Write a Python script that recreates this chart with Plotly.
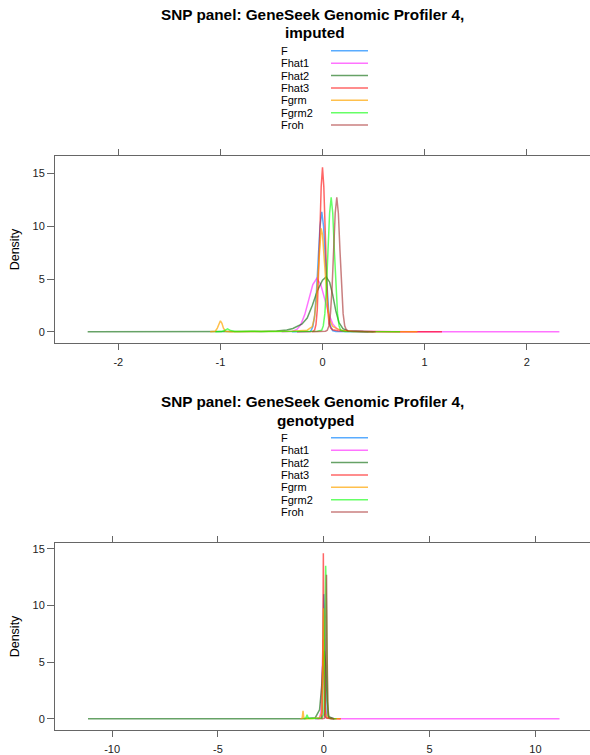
import plotly.graph_objects as go

# ---------------- data ----------------
series_names = ["F", "Fhat1", "Fhat2", "Fhat3", "Fgrm", "Fgrm2", "Froh"]
series_colors = ["rgba(0,128,255,0.65)", "rgba(255,0,255,0.55)", "rgba(0,100,0,0.6)",
                 "rgba(255,0,0,0.6)", "rgba(255,165,0,0.7)", "rgba(0,255,0,0.6)",
                 "rgba(165,42,42,0.6)"]

# --- imputed panel ---
imp_F_x = [-0.30, -0.12, -0.112, -0.0945, -0.077, -0.0595, -0.042, -0.0245, -0.007, 0.0105, 0.028, 0.0455, 0.063, 0.0805, 0.098, 0.13, 0.25, 0.45]
imp_F_y = [0.0, 0.02, 0.12, 0.5, 1.53, 3.7, 6.9, 10.0, 11.36, 10.0, 6.9, 3.7, 1.53, 0.5, 0.12, 0.03, 0.01, 0.0]

imp_Fhat1_x = [-0.40, -0.29, -0.251, -0.212, -0.173, -0.134, -0.095, -0.056, -0.017, 0.022, 0.061, 0.10, 0.14, 0.18, 0.25, 0.40, 0.60, 1.0, 2.32]
imp_Fhat1_y = [0.0, 0.06, 0.22, 0.68, 1.65, 3.08, 4.47, 5.07, 4.47, 3.1, 1.7, 0.75, 0.3, 0.12, 0.05, 0.02, 0.01, 0.003, 0.0]

imp_Fhat2_x = [-2.30, -1.0, -0.6, -0.45, -0.35, -0.29, -0.2, -0.15, -0.1, -0.05, 0.0, 0.036, 0.07, 0.1, 0.13, 0.16, 0.2, 0.25, 0.35, 0.5]
imp_Fhat2_y = [0.0, 0.005, 0.03, 0.08, 0.18, 0.32, 0.75, 1.3, 2.5, 3.9, 4.9, 5.2, 4.7, 3.5, 2.0, 0.9, 0.3, 0.08, 0.02, 0.0]

imp_Fhat3_x = [-0.25, -0.1, -0.077, -0.064, -0.051, -0.038, -0.0256, -0.0128, 0.0, 0.0128, 0.0256, 0.038, 0.051, 0.064, 0.08, 0.1, 0.15, 0.25, 0.4, 0.7, 1.17]
imp_Fhat3_y = [0.0, 0.02, 0.17, 0.69, 2.1, 5.07, 9.47, 13.76, 15.6, 13.76, 9.47, 5.07, 2.1, 0.8, 0.35, 0.2, 0.1, 0.05, 0.02, 0.005, 0.0]

imp_Fgrm_x = [-1.10, -1.05, -1.03, -1.015, -1.0, -0.985, -0.97, -0.95, -0.9, -0.7, -0.5, -0.3, -0.15, -0.1, -0.08, -0.06, -0.04, -0.025, -0.013, 0.0, 0.015, 0.03, 0.05, 0.07, 0.1, 0.15, 0.2, 0.3, 0.5, 0.93]
imp_Fgrm_y = [0.0, 0.05, 0.35, 0.8, 1.04, 0.8, 0.35, 0.06, 0.01, 0.02, 0.02, 0.05, 0.15, 0.5, 1.3, 3.0, 6.0, 8.6, 9.8, 9.2, 7.0, 4.6, 2.4, 1.1, 0.5, 0.25, 0.12, 0.04, 0.01, 0.0]

imp_Fgrm2_x = [-1.05, -0.99, -0.96, -0.93, -0.90, -0.86, -0.8, -0.75, -0.7, -0.6, -0.4, -0.2, -0.05, -0.008, 0.0075, 0.023, 0.0385, 0.054, 0.0695, 0.085, 0.1005, 0.116, 0.1315, 0.147, 0.1625, 0.178, 0.22, 0.35, 0.5, 0.76]
imp_Fgrm2_y = [0.0, 0.02, 0.12, 0.28, 0.12, 0.03, 0.03, 0.08, 0.06, 0.02, 0.02, 0.03, 0.05, 0.14, 0.56, 1.72, 4.14, 7.73, 11.24, 12.74, 11.24, 7.73, 4.14, 1.72, 0.56, 0.14, 0.04, 0.02, 0.01, 0.0]

imp_Froh_x = [-0.10, 0.0, 0.03, 0.047, 0.0625, 0.078, 0.0935, 0.109, 0.1245, 0.14, 0.1555, 0.171, 0.1865, 0.202, 0.2175, 0.233, 0.25, 0.3, 0.4, 0.52]
imp_Froh_y = [0.0, 0.01, 0.05, 0.15, 0.56, 1.72, 4.14, 7.73, 11.24, 12.74, 11.24, 7.73, 4.14, 1.72, 0.56, 0.2, 0.08, 0.04, 0.02, 0.0]

# --- genotyped panel ---
gen_F_x = [-0.4, -0.11, -0.08, -0.06, -0.04, -0.02, 0.0, 0.02, 0.04, 0.06, 0.08, 0.11, 0.5]
gen_F_y = [0.0, 0.1, 0.9, 3.2, 7.0, 10.0, 11.0, 10.0, 7.0, 3.2, 0.9, 0.1, 0.0]

gen_Fhat1_x = [-0.40, -0.2, -0.14, -0.1, -0.06, -0.03, 0.0, 0.04, 0.08, 0.14, 0.3, 1.0, 5.0, 11.14]
gen_Fhat1_y = [0.0, 0.05, 0.6, 2.5, 5.8, 7.0, 5.8, 2.6, 0.8, 0.15, 0.03, 0.01, 0.002, 0.0]

gen_Fhat2_x = [-11.14, -5.0, -1.0, -0.4, -0.2, -0.1, -0.04, 0.03, 0.1, 0.16, 0.24, 0.5]
gen_Fhat2_y = [0.0, 0.002, 0.01, 0.1, 0.8, 2.8, 5.0, 6.0, 4.6, 1.6, 0.2, 0.0]

gen_Fhat3_x = [-0.3, -0.1, -0.075, -0.06, -0.047, -0.033, -0.02, -0.007, 0.007, 0.02, 0.035, 0.05, 0.08, 0.15, 0.4, 0.8]
gen_Fhat3_y = [0.0, 0.03, 0.7, 2.1, 5.1, 10.0, 14.6, 10.0, 5.1, 2.1, 0.7, 0.3, 0.15, 0.06, 0.02, 0.0]

gen_Fgrm_x = [-1.10, -1.02, -0.98, -0.94, -0.88, -0.5, -0.2, -0.1, -0.07, -0.045, -0.025, -0.01, 0.005, 0.025, 0.05, 0.08, 0.15, 0.3, 0.8]
gen_Fgrm_y = [0.0, 0.05, 0.7, 0.05, 0.01, 0.02, 0.1, 0.5, 2.0, 5.5, 8.8, 9.75, 8.6, 4.8, 1.8, 0.5, 0.15, 0.04, 0.0]

gen_Fgrm2_x = [-0.95, -0.85, -0.79, -0.73, -0.65, -0.4, -0.1, 0.0, 0.03, 0.05, 0.07, 0.09, 0.11, 0.13, 0.15, 0.19, 0.3, 0.6]
gen_Fgrm2_y = [0.0, 0.05, 0.35, 0.05, 0.03, 0.03, 0.05, 0.4, 2.5, 7.5, 12.0, 13.5, 12.0, 7.5, 2.5, 0.3, 0.03, 0.0]

gen_Froh_x = [-0.1, 0.03, 0.06, 0.08, 0.1, 0.115, 0.13, 0.145, 0.16, 0.18, 0.2, 0.23, 0.35, 0.5]
gen_Froh_y = [0.0, 0.05, 0.6, 2.2, 5.6, 9.6, 12.7, 9.6, 5.6, 2.2, 0.6, 0.1, 0.02, 0.0]

imp_x = [imp_F_x, imp_Fhat1_x, imp_Fhat2_x, imp_Fhat3_x, imp_Fgrm_x, imp_Fgrm2_x, imp_Froh_x]
imp_y = [imp_F_y, imp_Fhat1_y, imp_Fhat2_y, imp_Fhat3_y, imp_Fgrm_y, imp_Fgrm2_y, imp_Froh_y]
gen_x = [gen_F_x, gen_Fhat1_x, gen_Fhat2_x, gen_Fhat3_x, gen_Fgrm_x, gen_Fgrm2_x, gen_Froh_x]
gen_y = [gen_F_y, gen_Fhat1_y, gen_Fhat2_y, gen_Fhat3_y, gen_Fgrm_y, gen_Fgrm2_y, gen_Froh_y]

panel_titles = ["SNP panel: GeneSeek Genomic Profiler 4,", "imputed", "genotyped"]
imp_xticks = [-2, -1, 0, 1, 2]
imp_xticklabels = ["-2", "-1", "0", "1", "2"]
gen_xticks = [-10, -5, 0, 5, 10]
gen_xticklabels = ["-10", "-5", "0", "5", "10"]
yticks = [0, 5, 10, 15]

# ---------------- figure ----------------
W, H = 590, 755
def px(x):
    return x / W
def py(y):
    return 1 - y / H

fig = go.Figure()
for i, name in enumerate(series_names):
    fig.add_trace(go.Scatter(x=imp_x[i], y=imp_y[i], mode="lines", name=name,
                             line=dict(color=series_colors[i], width=1.5),
                             xaxis="x", yaxis="y", showlegend=False, hoverinfo="skip"))
for i, name in enumerate(series_names):
    fig.add_trace(go.Scatter(x=gen_x[i], y=gen_y[i], mode="lines", name=name,
                             line=dict(color=series_colors[i], width=1.5),
                             xaxis="x2", yaxis="y2", showlegend=False, hoverinfo="skip"))

font_family = "Liberation Sans, Arial, sans-serif"
base_axis = dict(showgrid=False, zeroline=False, showline=True, linecolor="#666666",
                 linewidth=1, ticks="outside", tickcolor="#666666",
                 tickfont=dict(family=font_family, size=11, color="#222222"))

fig.update_layout(
    width=W, height=H,
    margin=dict(l=0, r=0, t=0, b=0),
    paper_bgcolor="white", plot_bgcolor="white",
    showlegend=False,
    xaxis=dict(domain=[px(55), 1], range=[-2.62, 2.62], tickvals=imp_xticks,
               ticktext=imp_xticklabels, ticklen=6, ticklabelstandoff=3,
               mirror="ticks", anchor="y", **base_axis),
    yaxis=dict(domain=[py(344), py(156)], range=[-1.07, 16.7], tickvals=yticks,
               ticklen=7, anchor="x", **base_axis),
    xaxis2=dict(domain=[px(55), 1], range=[-12.7, 12.58], tickvals=gen_xticks,
                ticktext=gen_xticklabels, ticklen=6, ticklabelstandoff=3,
                mirror="ticks", anchor="y2", **base_axis),
    yaxis2=dict(domain=[py(732), py(544)], range=[-0.99, 15.55], tickvals=yticks,
                ticklen=7, anchor="x2", **base_axis),
)

annotations = []
shapes = []

def add_panel_header(title_y1, title_y2, sub, legend_y0):
    annotations.append(dict(x=px(312), y=py(title_y1), xref="paper", yref="paper",
                            text="<b>" + panel_titles[0] + "</b>", showarrow=False,
                            xanchor="center", yanchor="middle",
                            font=dict(family=font_family, size=15.3, color="black")))
    annotations.append(dict(x=px(315), y=py(title_y2), xref="paper", yref="paper",
                            text="<b>" + sub + "</b>", showarrow=False,
                            xanchor="center", yanchor="middle",
                            font=dict(family=font_family, size=15.3, color="black")))
    for i, name in enumerate(series_names):
        yy = legend_y0 + i * 12.4
        annotations.append(dict(x=px(280), y=py(yy), xref="paper", yref="paper",
                                text=name, showarrow=False, xanchor="left", yanchor="middle",
                                borderpad=0,
                                font=dict(family=font_family, size=11, color="black")))
        shapes.append(dict(type="line", xref="paper", yref="paper",
                           x0=px(331), x1=px(368), y0=py(yy), y1=py(yy),
                           line=dict(color=series_colors[i], width=1.5)))

add_panel_header(15, 33, panel_titles[1], 51)
add_panel_header(403, 421.5, panel_titles[2], 439)

for cy in (250, 638):
    annotations.append(dict(x=px(15), y=py(cy), xref="paper", yref="paper",
                            text="Density", textangle=-90, showarrow=False,
                            xanchor="center", yanchor="middle",
                            font=dict(family=font_family, size=12.5, color="black")))

fig.update_layout(annotations=annotations, shapes=shapes)
fig.write_html("out.html")
